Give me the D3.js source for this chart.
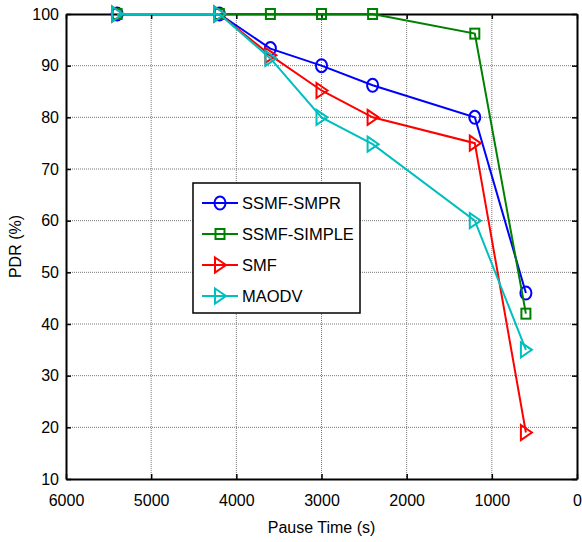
<!DOCTYPE html>
<html>
<head>
<meta charset="utf-8">
<script src="https://cdn.jsdelivr.net/npm/d3@7"></script>
<style>
  body { margin: 0; background: #fff; }
  text { font-family: "Liberation Sans", Arial, sans-serif; fill: #000; }
</style>
</head>
<body>
<div id="chart"></div>
<script>
// pause times (s), shared by every series
const pauseTimes = [5400, 4200, 3600, 3000, 2400, 1200, 600]

const ssmfSmpr = [100, 100, 93.3, 90, 86.2, 80, 46]
const ssmfSimple = [100, 100, 100, 100, 100, 96.2, 42]
const smf = [100, 100, 92, 85.2, 80, 75, 19]
const maodv = [100, 100, 91.4, 80, 74.8, 60, 35]

const seriesNames = ['SSMF-SMPR', 'SSMF-SIMPLE', 'SMF', 'MAODV']
const seriesColors = ['#0000ff', '#008000', '#ff0000', '#00bfbf']
const seriesMarkers = ['circle', 'square', 'triangle', 'triangle']

const xTicks = [6000, 5000, 4000, 3000, 2000, 1000, 0]
const yTicks = [10, 20, 30, 40, 50, 60, 70, 80, 90, 100]

const W = 582, H = 542
const margin = { top: 14, right: 5, bottom: 63, left: 66 }
const iw = W - margin.left - margin.right
const ih = H - margin.top - margin.bottom

const svg = d3.select('#chart').append('svg')
    .attr('width', W)
    .attr('height', H)

const g = svg.append('g').attr('transform', `translate(${margin.left},${margin.top})`)

const x = d3.scaleLinear().domain([6000, 0]).range([0, iw])
const y = d3.scaleLinear().domain([10, 100]).range([ih, 0])

// dotted grid
g.append('g').selectAll('line').data(xTicks.slice(1, -1))
    .enter().append('line')
    .attr('x1', d => x(d)).attr('x2', d => x(d))
    .attr('y1', 0).attr('y2', ih)
    .attr('stroke', '#777').attr('stroke-width', 1).attr('stroke-dasharray', '1,1')
g.append('g').selectAll('line').data(yTicks.slice(1, -1))
    .enter().append('line')
    .attr('x1', 0).attr('x2', iw)
    .attr('y1', d => y(d)).attr('y2', d => y(d))
    .attr('stroke', '#777').attr('stroke-width', 1).attr('stroke-dasharray', '1,1')

// axes, inward ticks like matlab
const tickLen = 5
g.append('g').attr('transform', `translate(0,${ih})`)
    .call(d3.axisBottom(x).tickValues(xTicks).tickFormat(d3.format('d'))
        .tickSizeInner(-tickLen).tickSizeOuter(0).tickPadding(16))
g.append('g')
    .call(d3.axisLeft(y).tickValues(yTicks).tickSizeInner(-tickLen).tickSizeOuter(0).tickPadding(7))
g.append('g')
    .call(d3.axisTop(x).tickValues(xTicks).tickSizeInner(-tickLen).tickSizeOuter(0).tickFormat(''))
g.append('g').attr('transform', `translate(${iw},0)`)
    .call(d3.axisRight(y).tickValues(yTicks).tickSizeInner(-tickLen).tickSizeOuter(0).tickFormat(''))

g.selectAll('.domain').attr('stroke', '#000').attr('stroke-width', 2)
g.selectAll('.tick line').attr('stroke', '#000').attr('stroke-width', 1.5)
g.selectAll('.tick text').style('font-size', '16px').style('font-family', '"Liberation Sans", Arial, sans-serif')

const drawMarker = (sel, type, color) => {
    if (type === 'circle') {
        sel.append('ellipse').attr('rx', 5.5).attr('ry', 6.5)
            .attr('fill', 'none').attr('stroke', color).attr('stroke-width', 2)
    } else if (type === 'square') {
        sel.append('rect').attr('x', -4.5).attr('y', -5).attr('width', 9).attr('height', 10)
            .attr('fill', 'none').attr('stroke', color).attr('stroke-width', 2)
    } else {
        sel.append('path').attr('d', 'M-5,-7.5L6,0L-5,7.5Z')
            .attr('fill', 'none').attr('stroke', color).attr('stroke-width', 2)
    }
}

const allSeries = [ssmfSmpr, ssmfSimple, smf, maodv]
const line = d3.line().x((d, i) => x(pauseTimes[i])).y(d => y(d))

allSeries.forEach((vals, k) => {
    g.append('path').datum(vals)
        .attr('d', line)
        .attr('fill', 'none')
        .attr('stroke', seriesColors[k])
        .attr('stroke-width', 2)
    vals.forEach((v, i) => {
        const m = g.append('g').attr('transform', `translate(${x(pauseTimes[i])},${y(v)})`)
        drawMarker(m, seriesMarkers[k], seriesColors[k])
    })
})

// legend
const lg = svg.append('g').attr('transform', 'translate(193,183)')
lg.append('rect').attr('width', 167).attr('height', 130)
    .attr('fill', '#fff').attr('stroke', '#000').attr('stroke-width', 1.5)
seriesNames.forEach((name, k) => {
    const yy = 20 + k * 31
    lg.append('line').attr('x1', 9).attr('x2', 45).attr('y1', yy).attr('y2', yy)
        .attr('stroke', seriesColors[k]).attr('stroke-width', 2)
    drawMarker(lg.append('g').attr('transform', `translate(27,${yy})`), seriesMarkers[k], seriesColors[k])
    lg.append('text').attr('x', 49).attr('y', yy + 6)
        .style('font-size', '16.5px').text(name)
})

// axis titles
svg.append('text')
    .attr('x', margin.left + iw / 2).attr('y', 533)
    .attr('text-anchor', 'middle').style('font-size', '16px')
    .text('Pause Time (s)')
svg.append('text')
    .attr('transform', `translate(21,${margin.top + ih / 2}) rotate(-90)`)
    .attr('text-anchor', 'middle').style('font-size', '16px')
    .text('PDR (%)')
</script>
</body>
</html>
